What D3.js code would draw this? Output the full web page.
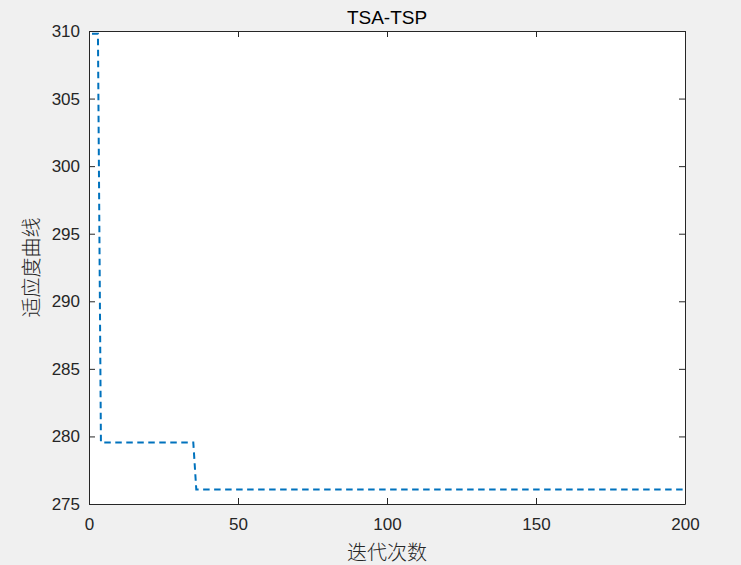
<!DOCTYPE html>
<html>
<head>
<meta charset="utf-8">
<script src="https://cdn.jsdelivr.net/npm/d3@7"></script>
<style>
    html, body { margin: 0; padding: 0; background: #f0f0f0; }
    .tick text { font-family: "Liberation Sans", Arial, sans-serif; font-size: 17px; fill: #262626; }
</style>
</head>
<body>
<div id="chart"></div>
<script>
// corner points of the fitness curve (iteration, fitness)
const iterations = [1, 3, 4, 35, 36, 200];
const fitness = [309.8, 309.8, 279.56, 279.56, 276.08, 276.08];
const xTicks = [0, 50, 100, 150, 200];
const yTicks = [275, 280, 285, 290, 295, 300, 305, 310];

const width = 741;
const height = 565;
const margin = { top: 31, right: 56, bottom: 61, left: 89 };
const innerW = width - margin.left - margin.right;
const innerH = height - margin.top - margin.bottom;

const svg = d3.select('#chart').append('svg')
    .attr('width', width)
    .attr('height', height);

const x = d3.scaleLinear().domain([0, 200]).range([0, innerW]);
const y = d3.scaleLinear().domain([275, 310]).range([innerH, 0]);

const g = svg.append('g')
    .attr('transform', `translate(${margin.left},${margin.top})`);

g.append('rect')
    .attr('width', innerW)
    .attr('height', innerH)
    .attr('fill', '#fff');

// ticks point inward, box on all four sides
const tickLen = 6;
g.append('g')
    .attr('transform', `translate(0,${innerH})`)
    .call(d3.axisBottom(x).tickValues(xTicks).tickSizeInner(-tickLen).tickSizeOuter(0).tickPadding(14));
g.append('g')
    .call(d3.axisTop(x).tickValues(xTicks).tickSizeInner(-tickLen).tickSizeOuter(0).tickFormat(''));
g.append('g')
    .call(d3.axisLeft(y).tickValues(yTicks).tickSizeInner(-tickLen).tickSizeOuter(0).tickPadding(9));
g.append('g')
    .attr('transform', `translate(${innerW},0)`)
    .call(d3.axisRight(y).tickValues(yTicks).tickSizeInner(-tickLen).tickSizeOuter(0).tickFormat(''));

g.selectAll('.domain').attr('stroke', '#262626');
g.selectAll('.tick line').attr('stroke', '#262626');

const points = iterations.map((it, i) => [it, fitness[i]]);

g.append('path')
    .datum(points)
    .attr('fill', 'none')
    .attr('stroke', '#0072BD')
    .attr('stroke-width', 2)
    .attr('stroke-dasharray', '6.5,4.5')
    .attr('d', d3.line().x(d => x(d[0])).y(d => y(d[1])));

svg.append('text')
    .attr('x', margin.left + innerW / 2)
    .attr('y', 24)
    .attr('text-anchor', 'middle')
    .style('font-family', '"Liberation Sans", Arial, sans-serif')
    .style('font-size', '19px')
    .attr('fill', '#000')
    .text('TSA-TSP');

svg.append('text')
    .attr('x', margin.left + innerW / 2)
    .attr('y', 560)
    .attr('text-anchor', 'middle')
    .style('font-family', '"Noto Sans CJK SC", sans-serif')
    .style('font-size', '20px')
    .style('font-weight', 300)
    .attr('fill', '#262626')
    .text('迭代次数');

svg.append('text')
    .attr('transform', `translate(39,${margin.top + innerH / 2}) rotate(-90)`)
    .attr('text-anchor', 'middle')
    .style('font-family', '"Noto Sans CJK SC", sans-serif')
    .style('font-size', '20px')
    .style('font-weight', 300)
    .attr('fill', '#262626')
    .text('适应度曲线');
</script>
</body>
</html>
